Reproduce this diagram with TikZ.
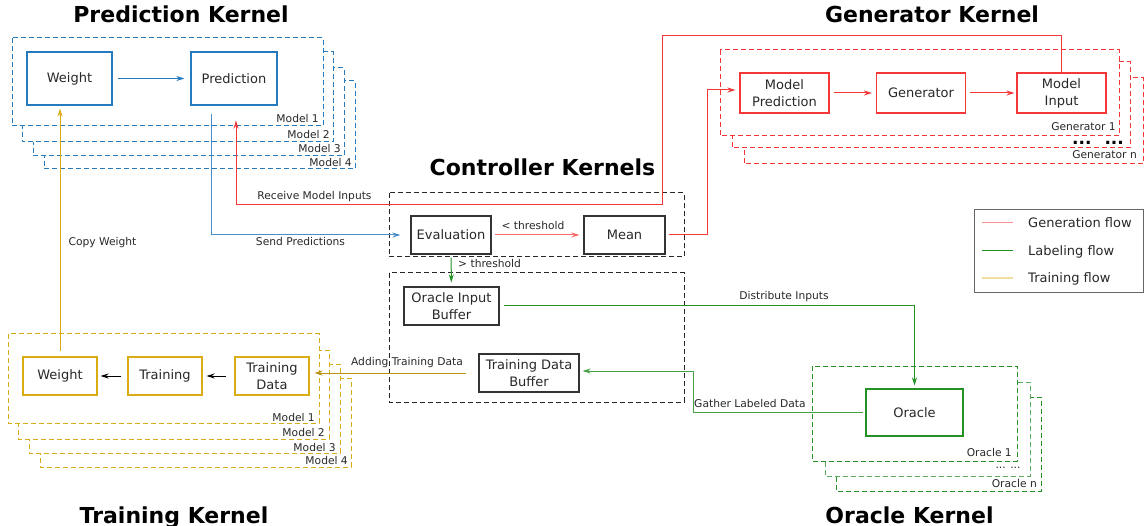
\documentclass[tikz,border=0pt]{standalone}
\usepackage{fontspec}
\setmainfont{DejaVu Sans}
\usepackage{tikz}
\usetikzlibrary{arrows.meta, positioning}

\definecolor{kblue}{RGB}{38,122,190}
\definecolor{kred}{RGB}{245,55,55}
\definecolor{kgreen}{RGB}{35,145,35}
\definecolor{kgold}{RGB}{218,172,20}
\definecolor{ktext}{RGB}{40,40,40}

\newcommand{\boxfnt}{\fontsize{13}{17}\selectfont}
\newcommand{\lblfnt}{\fontsize{10.7}{12}\selectfont}
\newcommand{\ttlfnt}{\fontsize{22}{26}\selectfont\bfseries}

\tikzset{
  kbox/.style={draw, line width=1.1pt, align=center, font=\boxfnt, text=ktext, inner sep=2pt},
  kstack/.style={line width=1pt, dash pattern=on 5pt off 3pt, fill=white},
  klabel/.style={font=\lblfnt, text=ktext, inner sep=0pt},
  ktitle/.style={font=\ttlfnt, inner sep=0pt, anchor=base},
  kflow/.style={line width=1pt, -{Stealth[length=8pt,width=5pt]}},
}

\begin{document}
\begin{tikzpicture}[x=1pt,y=-1pt]
\useasboundingbox (0,0) rectangle (1145,526);

% Draw titles
\node[ktitle] (ttlpred) at (181,23) {Prediction Kernel};
\node[ktitle] (ttlgen) at (932,23) {Generator Kernel};
\node[ktitle] (ttlctrl) at (542.5,176) {Controller Kernels};
\node[ktitle] (ttltrain) at (174,523) {Training Kernel};
\node[ktitle] (ttloracle) at (909.5,523) {Oracle Kernel};

% Draw prediction kernel
\draw[kstack, draw=kblue] (44,81) rectangle (355,169);
\node[klabel, anchor=base east] (pm4) at (352,167) {Model 4};
\draw[kstack, draw=kblue] (33,68) rectangle (344,156);
\node[klabel, anchor=base east] (pm3) at (341,153) {Model 3};
\draw[kstack, draw=kblue] (22,52) rectangle (333,142);
\node[klabel, anchor=base east] (pm2) at (330,139) {Model 2};
\draw[kstack, draw=kblue] (12,38) rectangle (323,126);
\node[klabel, anchor=base east] (pm1) at (319,123) {Model 1};

\node[kbox, draw=kblue, minimum width=85pt, minimum height=53pt] (pweight) at (69.5,78.5) {Weight};
\node[kbox, draw=kblue, minimum width=86pt, minimum height=53pt] (ppred) at (234,78.5) {Prediction};
\draw[kflow, kblue, shorten <=5pt, shorten >=6pt] (pweight) -- (ppred);

% Draw generator kernel
\draw[kstack, draw=kred] (744,78) rectangle (1143,164);
\node[klabel, anchor=base east] (gmn) at (1137,159) {Generator n};
\draw[kstack, draw=kred] (732,62) rectangle (1130,148);
\node[inner sep=0pt, anchor=base, font=\fontsize{17}{20}\selectfont\bfseries] (gdots) at (1098,145) {...\hspace{13pt}...};
\draw[kstack, draw=kred] (720,50) rectangle (1119,136);
\node[klabel, anchor=base east] (gm1) at (1116,131) {Generator 1};

\node[kbox, draw=kred, minimum width=89pt, minimum height=40pt] (mpred) at (784.5,93) {Model\\Prediction};
\node[kbox, draw=kred, minimum width=89pt, minimum height=40pt] (gen) at (921,93) {Generator};
\node[kbox, draw=kred, minimum width=89pt, minimum height=40pt] (minput) at (1061.5,93) {Model\\Input};
\draw[kflow, kred, shorten <=4pt, shorten >=4pt] (mpred) -- (gen);
\draw[kflow, kred, shorten <=4pt, shorten >=2pt] (gen) -- (minput);

% Draw controller kernels
\draw[line width=1pt, dash pattern=on 5pt off 3pt, black!85] (389,193) rectangle (684,257);
\draw[line width=1pt, dash pattern=on 5pt off 3pt, black!85] (389,273) rectangle (684,402);

\node[kbox, draw=black!80, minimum width=80pt, minimum height=38pt] (eval) at (451,235) {Evaluation};
\node[kbox, draw=black!80, minimum width=81pt, minimum height=38pt] (mean) at (624.5,235) {Mean};
\node[kbox, draw=black!80, minimum width=95pt, minimum height=38pt] (oib) at (451.5,306) {Oracle Input\\Buffer};
\node[kbox, draw=black!80, minimum width=100pt, minimum height=38pt] (tdbuf) at (529,373) {Training Data\\Buffer};

\draw[kflow, kred!75, shorten <=3pt, shorten >=4pt] (eval) -- (mean);
\node[klabel, anchor=base] (lless) at (533,230) {< threshold};
\draw[kflow, kgreen, shorten <=3pt, shorten >=4pt] (eval) -- (oib);
\node[klabel, anchor=base west] (lmore) at (458,268) {> threshold};

% Draw oracle kernel
\draw[kstack, draw=kgreen] (836,397) rectangle (1041,491);
\node[klabel, anchor=base east] (onn) at (1037,487) {Oracle n};
\draw[kstack, draw=kgreen!75] (825,382) rectangle (1030,476);
\node[klabel, anchor=base] (odots) at (1008,468) {... ...};
\draw[kstack, draw=kgreen] (812,366) rectangle (1017,461);
\node[klabel, anchor=base east] (on1) at (1012,456) {Oracle 1};

\node[kbox, draw=kgreen, minimum width=97pt, minimum height=47pt] (oracle) at (914.5,412.5) {Oracle};

% Draw training kernel
\draw[kstack, draw=kgold] (40,378) rectangle (351,467);
\node[klabel, anchor=base east] (tm4) at (348,464) {Model 4};
\draw[kstack, draw=kgold] (29,364) rectangle (340,453);
\node[klabel, anchor=base east] (tm3) at (336,451) {Model 3};
\draw[kstack, draw=kgold] (18,350) rectangle (329,439);
\node[klabel, anchor=base east] (tm2) at (325,436) {Model 2};
\draw[kstack, draw=kgold] (8,334) rectangle (319,423);
\node[klabel, anchor=base east] (tm1) at (315,421) {Model 1};

\node[kbox, draw=kgold, minimum width=74pt, minimum height=38pt] (tweight) at (60,376) {Weight};
\node[kbox, draw=kgold, minimum width=74pt, minimum height=38pt] (ttrain) at (165,376) {Training};
\node[kbox, draw=kgold, minimum width=74pt, minimum height=38pt] (tdata) at (272,376) {Training\\Data};
\draw[kflow, black, shorten <=6pt, shorten >=3pt] (ttrain) -- (tweight);
\draw[kflow, black, shorten <=8pt, shorten >=4pt] (tdata) -- (ttrain);

% Draw flows between kernels
\coordinate (rintop) at (662,36);
\coordinate (rinlow) at (236,205);
\draw[kflow, kred] (minput.north) |- (rintop) |- (rinlow) -- ([xshift=2pt,yshift=-15pt]ppred.south);
\node[klabel, anchor=base] (lrecv) at (314.5,199.5) {Receive Model Inputs};

\draw[kflow, kblue!85] ([xshift=-23pt,yshift=-8pt]ppred.south) |- ([xshift=-10pt]eval.west);
\node[klabel, anchor=base] (lsend) at (300.5,245.5) {Send Predictions};

\coordinate (mcorner) at (707,235);
\draw[kflow, kred, shorten <=3pt] (mean.east) -- (mcorner) |- ([xshift=-4pt,yshift=3pt]mpred.west);

\draw[kflow, kgreen, shorten <=4pt, shorten >=3pt] (oib.east) -| (oracle.north);
\node[klabel, anchor=base] (ldist) at (784,300) {Distribute Inputs};

\coordinate (gcorner) at (693,371);
\draw[kflow, kgreen!85, shorten <=2pt] (oracle.west) -| (gcorner) -- ([xshift=3pt,yshift=2pt]tdbuf.east);
\node[klabel, anchor=base west] (lgather) at (694,407) {Gather Labeled Data};

\draw[kflow, kgold!85!black] ([xshift=-12pt]tdbuf.west) -- ([xshift=5pt,yshift=3pt]tdata.east);
\node[klabel, anchor=base] (ladd) at (407,365.5) {Adding Training Data};

\draw[kflow, kgold] ([yshift=5pt]tweight.north) -- ([xshift=-9.5pt,yshift=-3pt]pweight.south);
\node[klabel, anchor=base] (lcopy) at (102.5,245.5) {Copy Weight};

% Draw legend
\draw[black!60, line width=0.8pt] (974,209) rectangle (1143,292);
\draw[kred!55, line width=1pt] (982,223) -- (1013,223);
\node[inner sep=0pt, anchor=base west, font=\boxfnt, text=ktext] (lggen) at (1028,227.5) {Generation flow};
\draw[kgreen, line width=1pt] (982,251) -- (1013,251);
\node[inner sep=0pt, anchor=base west, font=\boxfnt, text=ktext] (lglab) at (1028,255.5) {Labeling flow};
\draw[kgold!40, line width=1.6pt] (982,278) -- (1013,278);
\node[inner sep=0pt, anchor=base west, font=\boxfnt, text=ktext] (lgtrain) at (1028,282.5) {Training flow};

\end{tikzpicture}
\end{document}
